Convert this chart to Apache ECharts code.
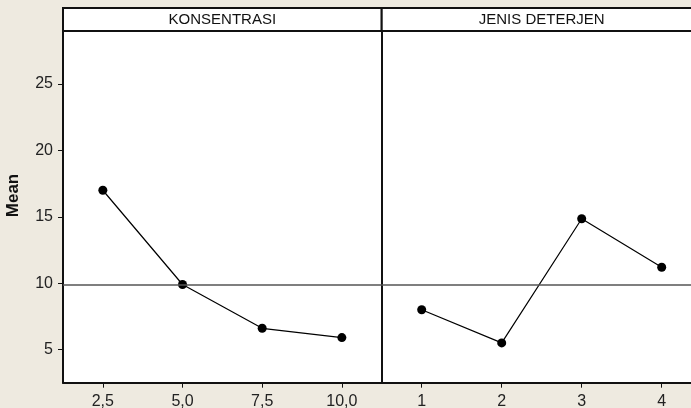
<!DOCTYPE html>
<html>
<head>
<meta charset="utf-8">
<script src="https://cdn.jsdelivr.net/npm/echarts@6/dist/echarts.min.js"></script>
<style>
  html, body { margin: 0; padding: 0; background: #EEEAE0; }
  #chart { width: 691px; height: 408px; }
</style>
</head>
<body>
<div id="chart"></div>
<script>
// Data (main effects plot for Mean)
const konsentrasiCategories = ['2,5', '5,0', '7,5', '10,0'];
const konsentrasiMeans = [17.0, 9.9, 6.6, 5.9];
const deterjenCategories = ['1', '2', '3', '4'];
const deterjenMeans = [8.0, 5.5, 14.85, 11.2];
const grandMean = 9.9;
const yTickValues = [5, 10, 15, 20, 25];
const panelTitles = ['KONSENTRASI', 'JENIS DETERJEN'];
const yTitle = 'Mean';

const FONT = 'Liberation Sans, Arial, sans-serif';
const chart = echarts.init(document.getElementById('chart'), null, { renderer: 'canvas' });

const topY = 31, bottomGap = 25.3, headerTop = 8;
const p0Left = 63, p0Width = 318.7;
const p1Left = p0Left + p0Width, p1Width = 320;

function yAxisFor(gridIndex, showLabels) {
  return {
    type: 'value', gridIndex, min: 2.5, max: 29,
    splitLine: { show: false },
    axisLine: { show: true, lineStyle: { color: '#111', width: 2 } },
    axisTick: { show: showLabels, length: 5, customValues: yTickValues, lineStyle: { color: '#111', width: 1 } },
    axisLabel: { show: showLabels, customValues: yTickValues, margin: 10, color: '#222', fontSize: 16, fontFamily: FONT }
  };
}
function xAxisFor(gridIndex, cats) {
  return {
    type: 'category', gridIndex, data: cats, boundaryGap: true,
    axisLine: { show: true, lineStyle: { color: '#111', width: 2 } },
    axisTick: { show: true, alignWithLabel: true, length: 5, lineStyle: { color: '#111', width: 1 } },
    axisLabel: { margin: 11, color: '#222', fontSize: 16, fontFamily: FONT },
    splitLine: { show: false }
  };
}
function seriesFor(idx, vals) {
  return {
    type: 'line', xAxisIndex: idx, yAxisIndex: idx, data: vals,
    symbol: 'circle', symbolSize: 9,
    itemStyle: { color: '#000' },
    lineStyle: { color: '#000', width: 1.2 },
    animation: false,
    markLine: {
      silent: true, symbol: 'none', label: { show: false },
      lineStyle: { color: '#555', width: 1.5, type: 'solid' },
      data: [{ yAxis: grandMean }]
    }
  };
}

const graphics = [];
[[p0Left, p0Width], [p1Left, p1Width]].forEach(([l, w], i) => {
  graphics.push({
    type: 'rect', shape: { x: l, y: headerTop, width: w, height: topY - headerTop },
    style: { fill: '#fff', stroke: '#111', lineWidth: 2 }, z: 10
  });
  graphics.push({
    type: 'text', x: l + w / 2, y: (headerTop + topY) / 2 + 0.5,
    style: { text: panelTitles[i], fill: '#111', font: '15px ' + FONT, textAlign: 'center', textVerticalAlign: 'middle' }, z: 11
  });
});
graphics.push({
  type: 'text', x: 13, y: 195.5, rotation: Math.PI / 2,
  style: { text: yTitle, fill: '#111', font: 'bold 17px ' + FONT, textAlign: 'center', textVerticalAlign: 'middle' }
});

chart.setOption({
  backgroundColor: '#EEEAE0',
  animation: false,
  grid: [
    { left: p0Left, top: topY, width: p0Width, bottom: bottomGap, outerBoundsMode: 'none', show: true, backgroundColor: '#fff', borderColor: '#111', borderWidth: 1 },
    { left: p1Left, top: topY, width: p1Width, bottom: bottomGap, outerBoundsMode: 'none', show: true, backgroundColor: '#fff', borderColor: '#111', borderWidth: 1 }
  ],
  xAxis: [xAxisFor(0, konsentrasiCategories), xAxisFor(1, deterjenCategories)],
  yAxis: [yAxisFor(0, true), yAxisFor(1, false)],
  series: [seriesFor(0, konsentrasiMeans), seriesFor(1, deterjenMeans)],
  graphic: graphics
});
</script>
</body>
</html>
